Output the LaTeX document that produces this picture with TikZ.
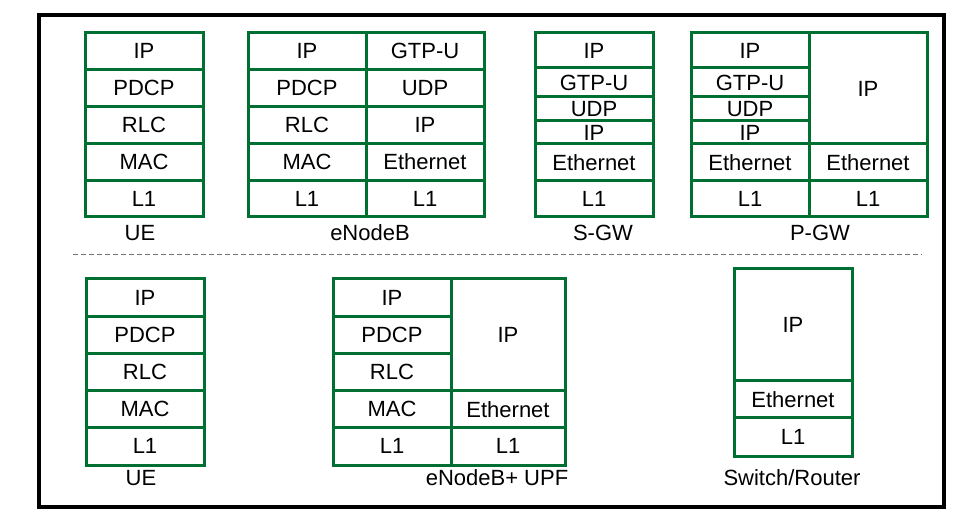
\documentclass[tikz,border=0pt]{standalone}
\usepackage{fontspec}
\setmainfont{Liberation Sans}
\definecolor{stackgreen}{RGB}{0,112,50}
\begin{document}
\begin{tikzpicture}[x=1pt,y=-1pt]
    \tikzstyle{every node}=[inner sep=0pt,font=\fontsize{22}{26}\selectfont]
    \tikzstyle{layer}=[draw=stackgreen,line width=3pt,minimum width=118pt,minimum height=36.8pt]
    \useasboundingbox (0,0) rectangle (978,521);
    \draw[line width=4pt] (39,15) rectangle (944,507);
    %%%%% LTE
    \draw (144,51.4) node[layer] (ue1) {IP};
    \draw (144,88.2) node[layer] (ue2) {PDCP};
    \draw (144,125) node[layer] (ue3) {RLC};
    \draw (144,161.8) node[layer] (ue4) {MAC};
    \draw (144,198.6) node[layer] (ue5) {L1};
    \draw (307,51.4) node[layer] (enb1) {IP};
    \draw (307,88.2) node[layer] (enb2) {PDCP};
    \draw (307,125) node[layer] (enb3) {RLC};
    \draw (307,161.8) node[layer] (enb4) {MAC};
    \draw (307,198.6) node[layer] (enb5) {L1};
    \draw (425,51.4) node[layer] (enb6) {GTP-U};
    \draw (425,88.2) node[layer] (enb7) {UDP};
    \draw (425,125) node[layer] (enb8) {IP};
    \draw (425,161.8) node[layer] (enb9) {Ethernet};
    \draw (425,198.6) node[layer] (enb10) {L1};
    \draw (594,50.5) node[layer,minimum height=35pt] (sgw1) {IP};
    \draw (594,82.5) node[layer,minimum height=29pt] (sgw2) {GTP-U};
    \draw (594,109) node[layer,minimum height=24pt] (sgw3) {UDP};
    \draw (594,132.5) node[layer,minimum height=23pt] (sgw4) {IP};
    \draw (594,162.5) node[layer,minimum height=37pt] (sgw5) {Ethernet};
    \draw (594,199) node[layer,minimum height=36pt] (sgw6) {L1};
    \draw (750,50.5) node[layer,minimum height=35pt] (pgw1) {IP};
    \draw (750,82.5) node[layer,minimum height=29pt] (pgw2) {GTP-U};
    \draw (750,109) node[layer,minimum height=24pt] (pgw3) {UDP};
    \draw (750,132.5) node[layer,minimum height=23pt] (pgw4) {IP};
    \draw (750,162.5) node[layer,minimum height=37pt] (pgw5) {Ethernet};
    \draw (750,199) node[layer,minimum height=36pt] (pgw6) {L1};
    \draw (868,88.5) node[layer,minimum height=111pt] (pgw7) {IP};
    \draw (868,162.5) node[layer,minimum height=37pt] (pgw8) {Ethernet};
    \draw (868,199) node[layer,minimum height=36pt] (pgw9) {L1};
    \draw (140,233) node (uelbl) {UE};
    \draw (370,233) node (enblbl) {eNodeB};
    \draw (603,233) node (sgwlbl) {S-GW};
    \draw (820,233) node (pgwlbl) {P-GW};
    %%%%%
    \coordinate (sepl) at (73,255);
    \coordinate (sepr) at (922,255);
    \draw[black!55,line width=1pt,dash pattern=on 5pt off 3pt] (sepl) -- (sepr);
    %%%%% UPF
    \draw (145,297.6) node[layer,minimum height=37.2pt] (ueb1) {IP};
    \draw (145,334.8) node[layer,minimum height=37.2pt] (ueb2) {PDCP};
    \draw (145,372) node[layer,minimum height=37.2pt] (ueb3) {RLC};
    \draw (145,409.2) node[layer,minimum height=37.2pt] (ueb4) {MAC};
    \draw (145,446.4) node[layer,minimum height=37.2pt] (ueb5) {L1};
    \draw (392,297.6) node[layer,minimum height=37.2pt] (upf1) {IP};
    \draw (392,334.8) node[layer,minimum height=37.2pt] (upf2) {PDCP};
    \draw (392,372) node[layer,minimum height=37.2pt] (upf3) {RLC};
    \draw (392,409.2) node[layer,minimum height=37.2pt] (upf4) {MAC};
    \draw (392,446.4) node[layer,minimum height=37.2pt] (upf5) {L1};
    \draw (508,334.8) node[layer,minimum width=114pt,minimum height=111.6pt] (upf6) {IP};
    \draw (508,409.2) node[layer,minimum width=114pt,minimum height=37.2pt] (upf7) {Ethernet};
    \draw (508,446.4) node[layer,minimum width=114pt,minimum height=37.2pt] (upf8) {L1};
    \draw (793,325) node[layer,minimum height=112pt] (sw1) {IP};
    \draw (793,399.5) node[layer,minimum height=37pt] (sw2) {Ethernet};
    \draw (793,437) node[layer,minimum height=38pt] (sw3) {L1};
    \draw (141,478) node (ueblbl) {UE};
    \draw (497,478) node (upflbl) {eNodeB+ UPF};
    \draw (792,478) node (swlbl) {Switch/Router};
\end{tikzpicture}
\end{document}
